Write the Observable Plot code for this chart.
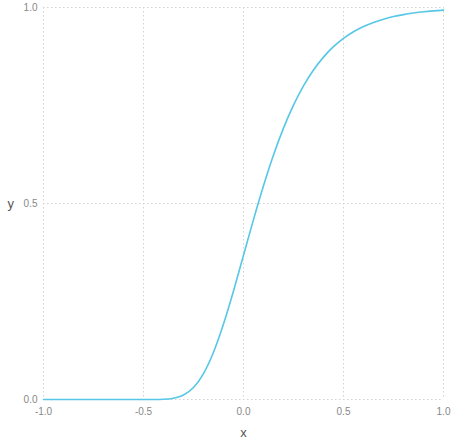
<!DOCTYPE html>
<html>
<head>
<meta charset="utf-8">
<script src="https://cdn.jsdelivr.net/npm/d3@7"></script>
<script src="https://cdn.jsdelivr.net/npm/@observablehq/plot@0.6"></script>
<style>
  html, body { margin: 0; padding: 0; background: #fff; }
  #chart svg { display: block; }
</style>
</head>
<body>
<div id="chart"></div>
<script>
const xValues = [-1.0, -0.9, -0.8, -0.7, -0.6, -0.5, -0.45, -0.4, -0.35, -0.3, -0.25, -0.2, -0.15, -0.1, -0.05,
  0.0, 0.05, 0.1, 0.15, 0.2, 0.25, 0.3, 0.35, 0.4, 0.45, 0.5, 0.55, 0.6, 0.65, 0.7, 0.75, 0.8, 0.85, 0.9, 0.95, 1.0];
const yValues = [0, 0, 0, 0, 0, 0.00001, 0.0001, 0.0006, 0.0032, 0.0113, 0.0305, 0.066, 0.1204, 0.1923, 0.2769,
  0.3679, 0.4589, 0.5452, 0.6235, 0.6922, 0.7509, 0.8, 0.8405, 0.8734, 0.9, 0.9212, 0.9381, 0.9514, 0.962, 0.9702, 0.9768, 0.9819, 0.9858, 0.989, 0.9914, 0.9933];
const xTicks = [-1.0, -0.5, 0.0, 0.5, 1.0];
const yTicks = [0.0, 0.5, 1.0];

const data = xValues.map((x, i) => ({x, y: yValues[i]}));
const fmt = (d) => d3.format(".1f")(d).replace("\u2212", "-");

const chart = Plot.plot({
  width: 454,
  height: 443,
  marginLeft: 43,
  marginRight: 11,
  marginTop: 7,
  marginBottom: 44,
  style: {fontFamily: "Helvetica, Arial, 'Liberation Sans', sans-serif", fontSize: "10px", color: "#888", background: "#fff"},
  x: {domain: [-1, 1]},
  y: {domain: [0, 1]},
  marks: [
    Plot.gridX(xTicks, {stroke: "#d2d2d2", strokeOpacity: 1, strokeDasharray: "1.5,2.5"}),
    Plot.gridY(yTicks, {stroke: "#d2d2d2", strokeOpacity: 1, strokeDasharray: "1.5,2.5"}),
    Plot.axisX(xTicks, {tickSize: 0, tickPadding: 8, tickFormat: fmt, label: null, fill: "#888"}),
    Plot.axisY(yTicks, {tickSize: 0, tickPadding: 6, tickFormat: fmt, label: null, fill: "#888"}),
    Plot.lineY(data, {x: "x", y: "y", stroke: "#56c7e6", strokeWidth: 1.6, curve: "monotone-x"}),
    Plot.text(["x"], {frameAnchor: "bottom", dy: 37, fill: "#555", fontSize: 13}),
    Plot.text(["y"], {frameAnchor: "left", dx: -36, fill: "#555", fontSize: 13})
  ]
});
document.getElementById("chart").appendChild(chart);
</script>
</body>
</html>
